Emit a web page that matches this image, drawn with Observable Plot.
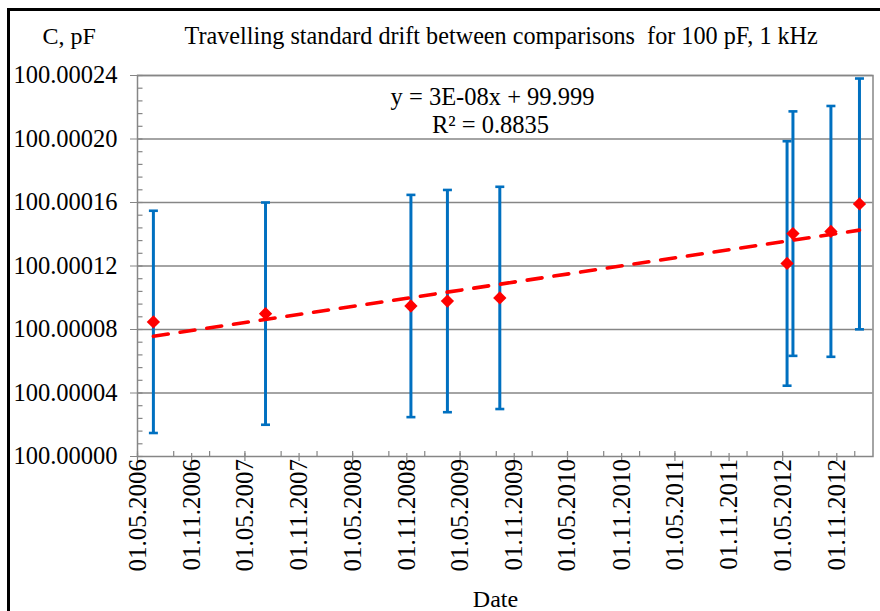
<!DOCTYPE html>
<html>
<head>
<meta charset="utf-8">
<script src="https://cdn.jsdelivr.net/npm/d3@7"></script>
<script src="https://cdn.jsdelivr.net/npm/@observablehq/plot@0.6"></script>
<style>
  html, body { margin: 0; padding: 0; background: #fff; }
  #wrap { position: relative; width: 880px; height: 611px; overflow: hidden; background: #fff; }
  #border { position: absolute; left: 7px; top: 8px; right: -10px; bottom: -10px;
            border-left: 3.4px solid #000; border-top: 3.4px solid #000; pointer-events: none; }
</style>
</head>
<body>
<div id="wrap"><div id="border"></div></div>
<script>
// ---- data ----
const dates = ["2006-06-24", "2007-07-10", "2008-11-15", "2009-03-19", "2009-09-13",
               "2012-05-16", "2012-06-05", "2012-10-12", "2013-01-17"];
const values = [100.0000848, 100.0000900, 100.0000948, 100.0000979, 100.0000999,
                100.0001216, 100.0001404, 100.0001418, 100.0001591];
const uncertainty = [0.000070, 0.000070, 0.000070, 0.000070, 0.000070,
                     0.000077, 0.000077, 0.000079, 0.000079];
const trendDates = ["2006-06-24", "2013-01-17"];
const trendValues = [100.0000757, 100.0001426];
const yTicks = [100.00000, 100.00004, 100.00008, 100.00012, 100.00016, 100.00020, 100.00024];
const xTicks = ["2006-05-01", "2006-11-01", "2007-05-01", "2007-11-01", "2008-05-01",
                "2008-11-01", "2009-05-01", "2009-11-01", "2010-05-01", "2010-11-01",
                "2011-05-01", "2011-11-01", "2012-05-01", "2012-11-01"];
const xDomain = ["2006-05-01", "2013-03-04"];
const titleText = "Travelling standard drift between comparisons\u00A0 for 100 pF, 1 kHz";
const yUnitText = "C, pF";
const xLabelText = "Date";
const equationText = "y = 3E-08x + 99.999";
const r2Text = "R\u00B2 = 0.8835";

// ---- build tables ----
const parse = s => new Date(s + "T00:00:00Z");
const data = dates.map((d, i) => ({
  date: parse(d), value: values[i],
  lo: values[i] - uncertainty[i], hi: values[i] + uncertainty[i]
}));
const trend = trendDates.map((d, i) => ({date: parse(d), value: trendValues[i]}));
const xMajor = xTicks.map(parse);
const xMinor = d3.utcMonth.every(4).range(parse("2006-05-01"), parse(xDomain[1]));
const yMinor = d3.range(0, 31).map(i => 100 + i * 0.000008);

const blue = "#0070C0", red = "#FF0000", gray = "#868686";
const serif = "'Liberation Serif', 'Times New Roman', serif";
const capSymbol = {
  draw(ctx, size) { const r = Math.sqrt(size / Math.PI); ctx.moveTo(-r, 0); ctx.lineTo(r, 0); }
};
const fmt = d3.utcFormat("%d.%m.%Y");
const label = (txt, dx, dy, anchor, size) =>
  Plot.text([txt], {text: d => d, frameAnchor: "top-left", dx, dy, textAnchor: anchor,
                    lineAnchor: "bottom", fontSize: size, fontFamily: serif, fill: "#000"});

const chart = Plot.plot({
  width: 880, height: 611,
  marginLeft: 137, marginRight: 7.5, marginTop: 75, marginBottom: 155,
  style: {fontFamily: serif, fontSize: "24px", color: "#000", background: "transparent"},
  x: {type: "utc", domain: xDomain.map(parse)},
  y: {domain: [100, 100.00024]},
  marks: [
    Plot.ruleY(yTicks.slice(1), {stroke: gray, strokeWidth: 1.3}),
    Plot.frame({stroke: gray, strokeWidth: 1.5}),
    Plot.tickY(yMinor, {y: d => d, insetRight: 730, stroke: gray, strokeWidth: 1.2}),
    Plot.tickX(xMinor, {x: d => d, insetTop: 376, stroke: gray, strokeWidth: 1.2}),
    Plot.tickX(xMajor, {x: d => d, insetTop: 378, insetBottom: -5, stroke: gray, strokeWidth: 1.2}),
    Plot.axisY({ticks: yTicks, tickSize: 7, tickPadding: 13, tickFormat: d => d.toFixed(5),
                label: null, stroke: gray, fill: "#000", fontSize: 24.5, fontFamily: serif}),
    Plot.axisX({ticks: xMajor, tickSize: 0, tickPadding: 2.5, tickRotate: -90, tickFormat: fmt,
                label: null, fill: "#000", fontSize: 25, fontFamily: serif}),
    Plot.ruleX(data, {x: "date", y1: "lo", y2: "hi", stroke: blue, strokeWidth: 3}),
    Plot.dot(data, {x: "date", y: "lo", symbol: capSymbol, r: 4.5, stroke: blue, strokeWidth: 2.6, fill: "none"}),
    Plot.dot(data, {x: "date", y: "hi", symbol: capSymbol, r: 4.5, stroke: blue, strokeWidth: 2.6, fill: "none"}),
    Plot.dot(data, {x: "date", y: "value", symbol: "diamond2", r: 6, fill: red, stroke: null}),
    Plot.line(trend, {x: "date", y: "value", stroke: red, strokeWidth: 3.6, strokeDasharray: "15,12"}),
    label(titleText, 47, -32, "start", 24.2),
    label(yUnitText, -95, -32, "start", 24),
    label(equationText, 355, 29, "middle", 24.5),
    label(r2Text, 353, 57, "middle", 24.5),
    label(xLabelText, 358, 531, "middle", 24)
  ]
});
chart.style.position = "absolute";
chart.style.left = "0px";
chart.style.top = "0px";
document.getElementById("wrap").prepend(chart);
</script>
</body>
</html>
